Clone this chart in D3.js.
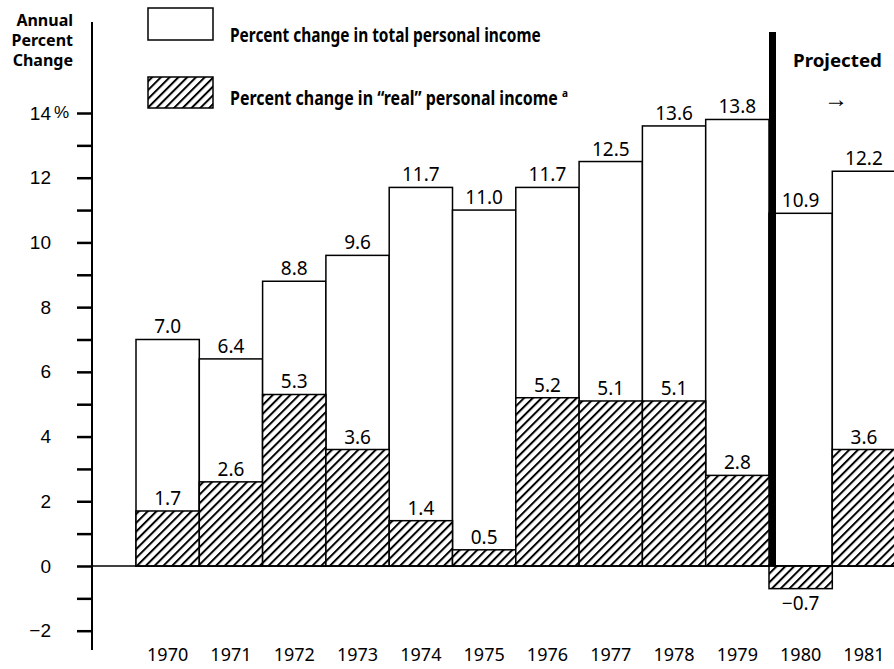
<!DOCTYPE html>
<html>
<head>
<meta charset="utf-8">
<script src="https://cdn.jsdelivr.net/npm/d3@7"></script>
<style>
  html, body { margin: 0; padding: 0; background: #fff; }
  svg { display: block; font-family: "Noto Sans", "Open Sans", sans-serif; }
</style>
</head>
<body>
<div id="viz"></div>
<script>
// data
const years = ["1970", "1971", "1972", "1973", "1974", "1975", "1976", "1977", "1978", "1979", "1980", "1981"];
const totalIncome = [7.0, 6.4, 8.8, 9.6, 11.7, 11.0, 11.7, 12.5, 13.6, 13.8, 10.9, 12.2];
const realIncome = [1.7, 2.6, 5.3, 3.6, 1.4, 0.5, 5.2, 5.1, 5.1, 2.8, -0.7, 3.6];
const yTicks = [-2, -1, 0, 1, 2, 3, 4, 5, 6, 7, 8, 9, 10, 11, 12, 13, 14];
const firstProjected = "1980";

const W = 894, H = 669;
const svg = d3.select("#viz").append("svg").attr("width", W).attr("height", H);

// hatch pattern
const defs = svg.append("defs");
defs.append("pattern")
  .attr("id", "hatch")
  .attr("patternUnits", "userSpaceOnUse")
  .attr("width", 6.2).attr("height", 6.2)
  .attr("patternTransform", "rotate(45)")
  .call(p => {
    p.append("rect").attr("width", 6.2).attr("height", 6.2).attr("fill", "#fff");
    p.append("line").attr("x1", 1).attr("x2", 1).attr("y1", 0).attr("y2", 6.2)
      .attr("stroke", "#000").attr("stroke-width", 2);
  });

const x = d3.scaleBand().domain(years).range([136, 136 + 63.3 * years.length]).padding(0);
const y = d3.scaleLinear().domain([-2, 14]).range([630.7, 113]);

const axisX = 92;

// squeeze a bold label horizontally so it spans the given width
function condensed(sel, x0, y0, width) {
  const natural = sel.node().getComputedTextLength();
  sel.attr("transform", `translate(${x0},${y0}) scale(${width / natural},1)`);
  return sel;
}

// y axis
const yAxis = svg.append("g")
  .attr("transform", `translate(${axisX},0)`)
  .call(d3.axisLeft(y)
    .tickValues(yTicks)
    .tickSize(15)
    .tickSizeOuter(0)
    .tickPadding(26)
    .tickFormat(d => d % 2 === 0 ? (d < 0 ? "\u2212" + Math.abs(d) : d) : ""));
yAxis.select(".domain").remove();
yAxis.selectAll(".tick line").attr("stroke", "#000").attr("stroke-width", 2.5);
yAxis.selectAll(".tick text").attr("fill", "#000").attr("font-size", 19);
yAxis.append("text")
  .attr("x", -38).attr("y", y(14)).attr("dy", "0.32em")
  .attr("font-size", 17).attr("fill", "#000").attr("text-anchor", "start")
  .text("%");
svg.append("line")
  .attr("x1", axisX).attr("x2", axisX).attr("y1", 22).attr("y2", 650)
  .attr("stroke", "#000").attr("stroke-width", 2);

// axis title
const title = svg.append("text")
  .attr("font-size", 16).attr("font-weight", 700).attr("text-anchor", "end");
["Annual", "Percent", "Change"].forEach((t, i) => {
  title.append("tspan").attr("x", 73).attr("y", 26 + i * 20).text(t);
});

// total income bars (white)
svg.append("g").selectAll("rect")
  .data(years)
  .join("rect")
  .attr("x", d => x(d))
  .attr("width", x.bandwidth())
  .attr("y", (d, i) => y(totalIncome[i]))
  .attr("height", (d, i) => y(0) - y(totalIncome[i]))
  .attr("fill", "#fff")
  .attr("stroke", "#000")
  .attr("stroke-width", 1.5);

// real income bars (hatched)
svg.append("g").selectAll("rect")
  .data(years)
  .join("rect")
  .attr("x", d => x(d))
  .attr("width", x.bandwidth())
  .attr("y", (d, i) => y(Math.max(0, realIncome[i])))
  .attr("height", (d, i) => Math.abs(y(realIncome[i]) - y(0)))
  .attr("fill", "url(#hatch)")
  .attr("stroke", "#000")
  .attr("stroke-width", 1.5);

// zero line
svg.append("line")
  .attr("x1", axisX).attr("x2", W).attr("y1", y(0)).attr("y2", y(0))
  .attr("stroke", "#000").attr("stroke-width", 1.5);

// value labels
const labels = svg.append("g").attr("font-size", 19).attr("text-anchor", "middle").attr("fill", "#000");
labels.selectAll("text.total")
  .data(years)
  .join("text")
  .attr("class", "total")
  .attr("x", d => x(d) + x.bandwidth() / 2)
  .attr("y", (d, i) => y(totalIncome[i]) - 6)
  .text((d, i) => totalIncome[i].toFixed(1));
labels.selectAll("text.real")
  .data(years)
  .join("text")
  .attr("class", "real")
  .attr("x", d => x(d) + x.bandwidth() / 2)
  .attr("y", (d, i) => realIncome[i] >= 0 ? y(realIncome[i]) - 6 : y(realIncome[i]) + 21)
  .text((d, i) => realIncome[i] < 0 ? "\u2212" + Math.abs(realIncome[i]).toFixed(1) : realIncome[i].toFixed(1));

// year labels
svg.append("g").attr("font-size", 18).attr("text-anchor", "middle")
  .selectAll("text")
  .data(years)
  .join("text")
  .attr("x", d => x(d) + x.bandwidth() / 2)
  .attr("y", 661)
  .text(d => d);

// projection divider
svg.append("rect")
  .attr("x", x(firstProjected))
  .attr("width", 7)
  .attr("y", 32)
  .attr("height", y(0) - 32)
  .attr("fill", "#000");

condensed(svg.append("text")
  .attr("font-size", 18).attr("font-weight", 700)
  .text("Projected"), 793, 67, 89);
svg.append("text")
  .attr("x", 836).attr("y", 107)
  .attr("font-size", 24).attr("text-anchor", "middle")
  .text("\u2192");

// legend
const legend = svg.append("g");
legend.append("rect")
  .attr("x", 148).attr("y", 8).attr("width", 65).attr("height", 32)
  .attr("fill", "#fff").attr("stroke", "#000").attr("stroke-width", 1.5);
legend.append("rect")
  .attr("x", 148).attr("y", 77).attr("width", 65).attr("height", 31)
  .attr("fill", "url(#hatch)").attr("stroke", "#000").attr("stroke-width", 1.5);
condensed(legend.append("text")
  .attr("font-size", 19).attr("font-weight", 700)
  .text("Percent change in total personal income"), 230, 42, 311);
condensed(legend.append("text")
  .attr("font-size", 19).attr("font-weight", 700)
  .text("Percent change in \u201Creal\u201D personal income"), 230, 105, 328);
legend.append("text")
  .attr("x", 562).attr("y", 97)
  .attr("font-size", 10).attr("font-weight", 700)
  .text("a");
</script>
</body>
</html>
